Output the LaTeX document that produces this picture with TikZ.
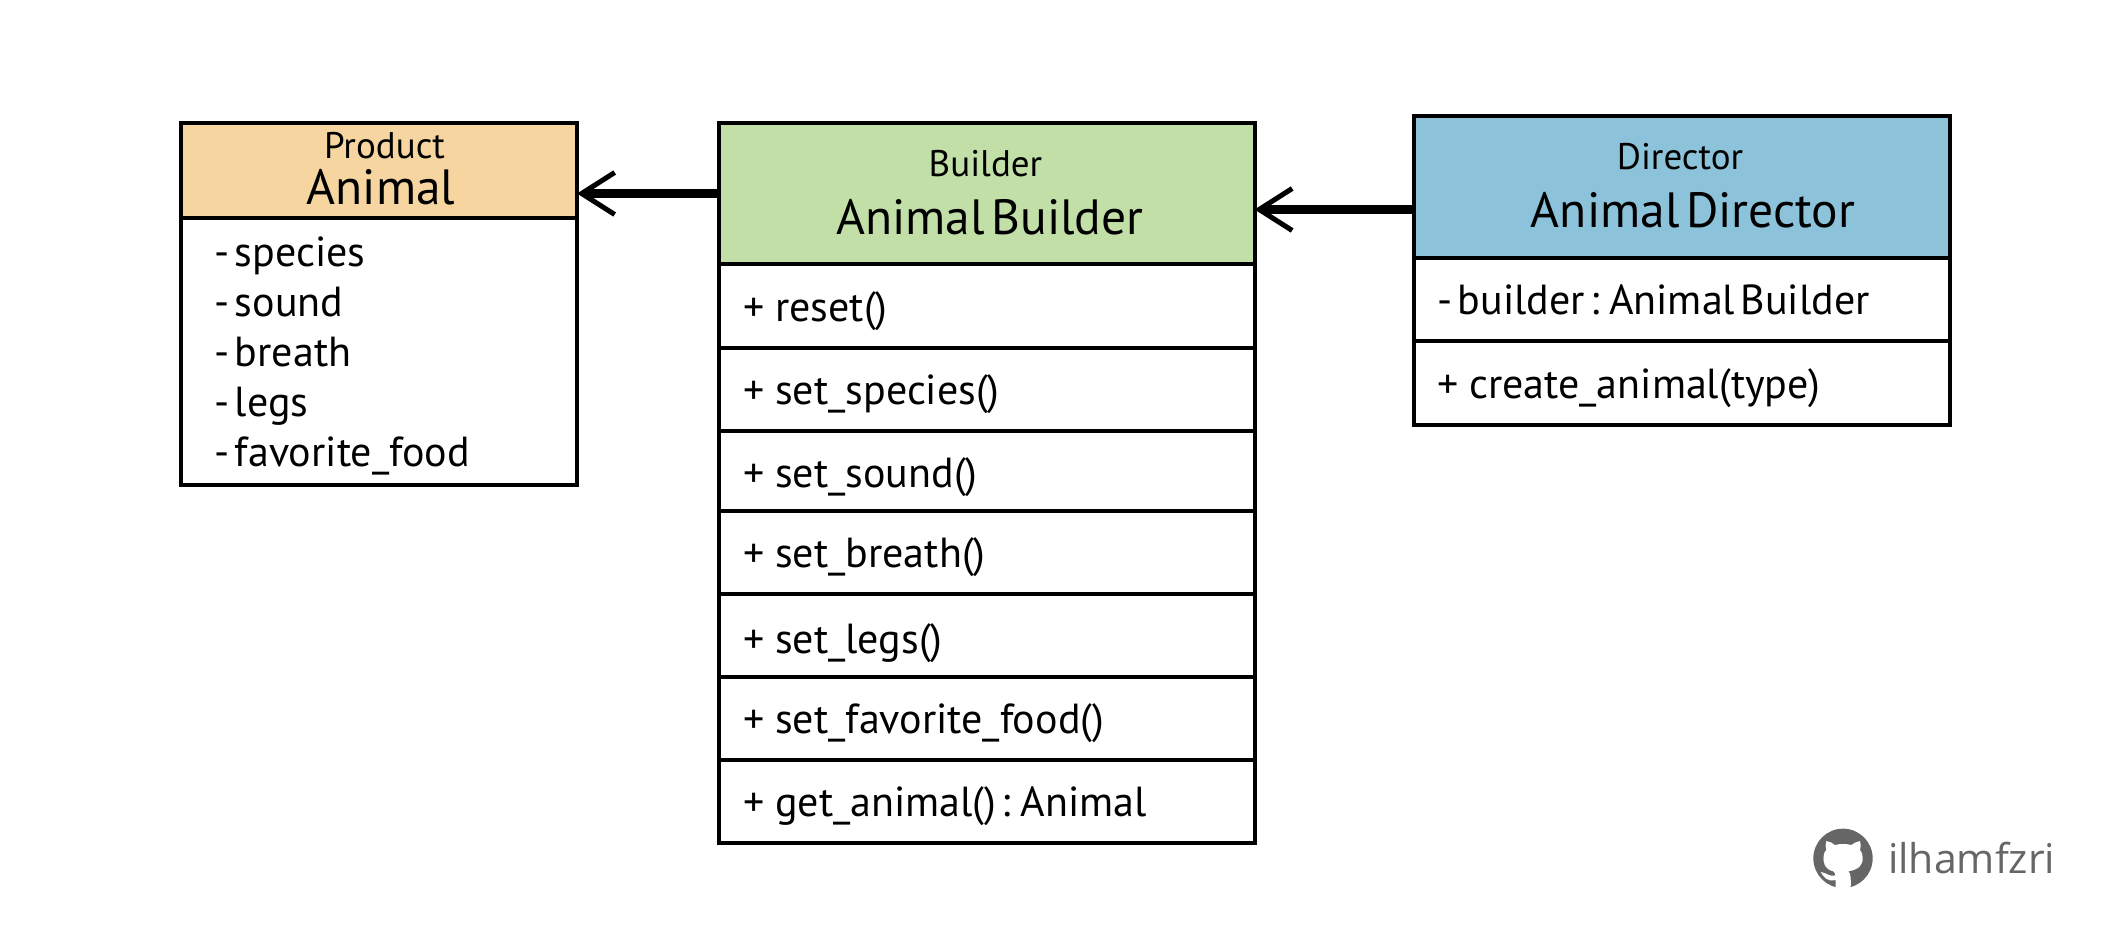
\documentclass[tikz,border=0pt]{standalone}
\usepackage{fontspec}
\setmainfont[WordSpace=0.5]{PT Sans}
\newfontfamily\markfont{Open Sans}
\usetikzlibrary{arrows.meta}
\definecolor{prodc}{HTML}{F6D5A0}
\definecolor{buildc}{HTML}{C1DFA6}
\definecolor{dirc}{HTML}{8CC3DA}
\definecolor{markc}{HTML}{666666}
\newcommand{\umlbox}[6]{%
  \pgfmathsetmacro{\bw}{#4-#2}\pgfmathsetmacro{\bh}{#5-#3}%
  \pgfmathsetmacro{\bx}{(#4+#2)/2}\pgfmathsetmacro{\by}{(#5+#3)/2}%
  \node[umlcell,fill=#6,minimum width=\bw pt,minimum height=\bh pt] (#1) at (\bx,\by) {};}
\newcommand{\pl}{+\hspace{.26em}}
\tikzset{
  umlcell/.style={draw=black,line width=4pt,inner sep=0pt,outer sep=0pt},
  rowtext/.style={anchor=base west,inner sep=0pt,font=\fontsize{42}{44}\selectfont},
  smalltitle/.style={anchor=base,inner sep=0pt,font=\fontsize{37}{39}\selectfont},
  bigtitle/.style={anchor=base,inner sep=0pt,font=\fontsize{49.5}{51}\selectfont},
  assoc/.style={line width=9pt,-{Straight Barb[length=33pt,width=42pt,line width=5pt]}},
}
\begin{document}
\begin{tikzpicture}[x=1pt,y=-1pt]
\useasboundingbox (0,0) rectangle (2127,950);
\fill[white] (0,0) rectangle (2127,950);
% Product
\umlbox{ph}{181}{123}{577}{218}{prodc}
\umlbox{pb}{181}{218}{577}{485}{white}
\node[smalltitle] (pt1) at (384.5,158) {Product};
\node[bigtitle] (pt2) at (381,204) {Animal};
\node[rowtext] (p1) at (214,266) {- species};
\node[rowtext] (p2) at (214,316) {- sound};
\node[rowtext] (p3) at (214,366) {- breath};
\node[rowtext] (p4) at (214,416) {- legs};
\node[rowtext] (p5) at (214,466) {- favorite\_food};
% Builder
\umlbox{bh}{719}{123}{1254.5}{264}{buildc}
\umlbox{b1}{719}{264}{1254.5}{348}{white}
\umlbox{b2}{719}{348}{1254.5}{431}{white}
\umlbox{b3}{719}{431}{1254.5}{511}{white}
\umlbox{b4}{719}{511}{1254.5}{594}{white}
\umlbox{b5}{719}{594}{1254.5}{677}{white}
\umlbox{b6}{719}{677}{1254.5}{760}{white}
\umlbox{b7}{719}{760}{1254.5}{843}{white}
\node[smalltitle] (bt1) at (985.5,176) {Builder};
\node[bigtitle] (bt2) at (990,234) {Animal Builder};
\node[rowtext] (br1) at (743,321) {\pl reset()};
\node[rowtext] (br2) at (743,404) {\pl set\_species()};
\node[rowtext] (br3) at (743,487) {\pl set\_sound()};
\node[rowtext] (br4) at (743,567) {\pl set\_breath()};
\node[rowtext] (br5) at (743,653) {\pl set\_legs()};
\node[rowtext] (br6) at (743,733) {\pl set\_favorite\_food()};
\node[rowtext] (br7) at (743,816) {\pl get\_animal() : Animal};
% Director
\umlbox{dh}{1414}{116}{1949.5}{258}{dirc}
\umlbox{d1}{1414}{258}{1949.5}{341}{white}
\umlbox{d2}{1414}{341}{1949.5}{425}{white}
\node[smalltitle] (dt1) at (1680,169) {Director};
\node[bigtitle] (dt2) at (1693,227) {Animal Director};
\node[rowtext] (dr1) at (1437,314) {- builder : Animal Builder};
\node[rowtext] (dr2) at (1437,398) {\pl create\_animal(type)};
% connectors
\draw[assoc] (bh.west) -- (bh.west -| ph.east);
\coordinate (da) at (1414,209.5);
\draw[assoc] (da) -- (da -| bh.east);
% github mark
\begin{scope}[shift={(1780,800)},x=0.3333pt,y=-0.3333pt]
\fill[markc] (189,175) circle (89);
\fill[white] (167,264) -- (167,240) .. controls (140,246) and (132,232) .. (122,216)
  .. controls (140,218) and (148,232) .. (166,226) .. controls (166,222) and (166,220) .. (160,214)
  .. controls (135,208) and (128,190) .. (131,168) .. controls (132,158) and (136,152) .. (139,150)
  .. controls (136,142) and (136,132) .. (139,123) .. controls (150,124) and (158,130) .. (165,135)
  .. controls (180,131) and (198,131) .. (214,135) .. controls (222,130) and (230,124) .. (240,123)
  .. controls (243,132) and (243,142) .. (240,150) .. controls (245,156) and (248,162) .. (248,172)
  .. controls (249,195) and (238,208) .. (205,214) .. controls (212,222) and (213,230) .. (212,264) -- cycle;
\end{scope}
\node[anchor=base west,inner sep=0pt,text=markc,font=\markfont\fontsize{41}{43}\selectfont] (wm) at (1888,873) {ilhamfzri};
\end{tikzpicture}
\end{document}
